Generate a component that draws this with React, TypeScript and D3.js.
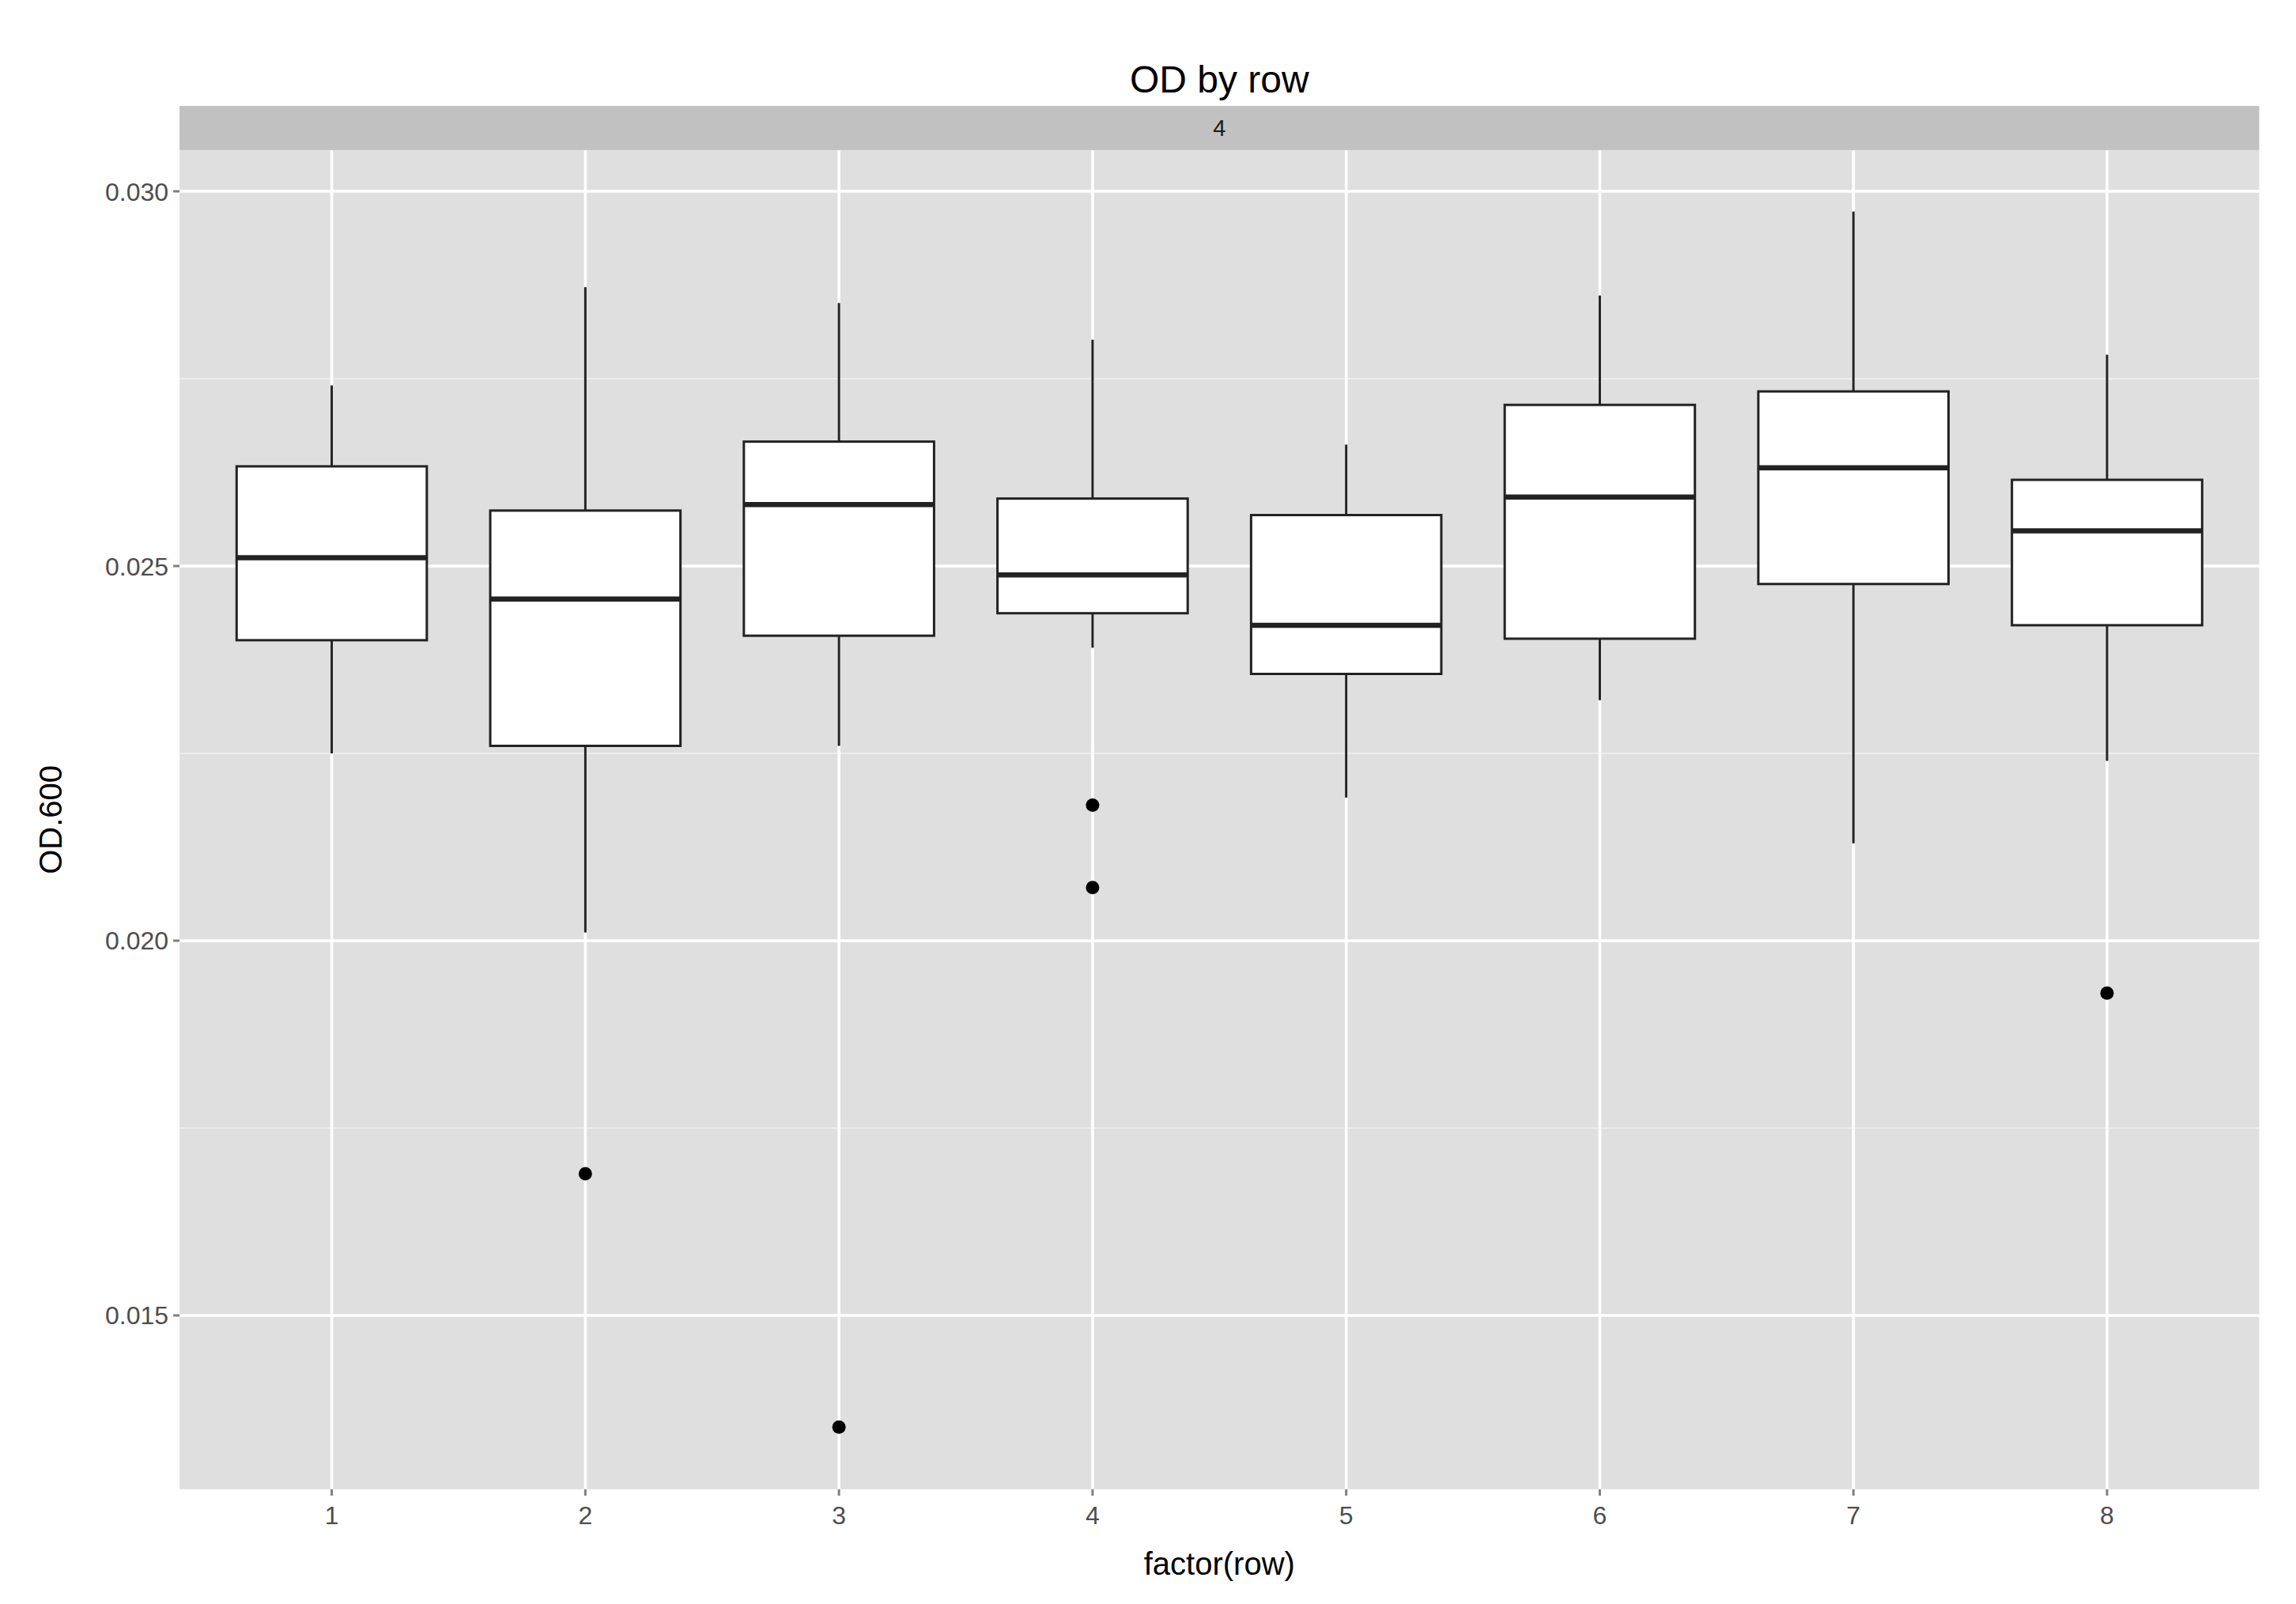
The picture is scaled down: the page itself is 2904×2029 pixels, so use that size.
import * as d3 from "d3";

const categories = ["1", "2", "3", "4", "5", "6", "7", "8"];
// [whiskerLow, q1, median, q3, whiskerHigh]
const boxStats = [
  [0.0225, 0.02401, 0.02511, 0.02633, 0.02741],
  [0.02011, 0.0226, 0.02456, 0.02574, 0.02872],
  [0.0226, 0.02407, 0.02582, 0.02666, 0.02851],
  [0.02391, 0.02437, 0.02488, 0.0259, 0.02802],
  [0.02191, 0.02356, 0.02421, 0.02568, 0.02662],
  [0.02321, 0.02403, 0.02592, 0.02715, 0.02861],
  [0.0213, 0.02476, 0.02631, 0.02733, 0.02973],
  [0.0224, 0.02421, 0.02547, 0.02615, 0.02782],
];
const outliers = [[], [0.01689], [0.01351], [0.02181, 0.02071], [], [], [], [0.0193]];
const yTicks = [0.015, 0.02, 0.025, 0.03];
const yMinor = [0.0175, 0.0225, 0.0275];

const S = 2904 / 1560;
const W = 2904;
const H = 2029;
const panel = { left: 122 * S, right: 1535 * S, top: 102 * S, bottom: 1012 * S };
const stripTop = 72 * S;
const font = "'Liberation Sans', Arial, sans-serif";

export default function App() {
  const x = d3.scalePoint<string>().domain(categories).range([panel.left, panel.right]).padding(0.6);
  const y = d3.scaleLinear().domain([0.01268, 0.03055]).range([panel.bottom, panel.top]);
  const bw = x.step() * 0.75;
  const pw = panel.right - panel.left;

  return (
    <svg width={W} height={H} style={{ position: "absolute", left: 0, top: 0, background: "#fff" }} fontFamily={font}>
      <rect x={panel.left} y={panel.top} width={pw} height={panel.bottom - panel.top} fill="#dfdfdf" />
      {yMinor.map((t) => (
        <line key={`m${t}`} x1={panel.left} x2={panel.right} y1={y(t)} y2={y(t)} stroke="#f0f0f0" strokeWidth={1.6} />
      ))}
      {yTicks.map((t) => (
        <g key={`y${t}`}>
          <line x1={panel.left} x2={panel.right} y1={y(t)} y2={y(t)} stroke="#fff" strokeWidth={3.6} />
          <line x1={panel.left - 8} x2={panel.left} y1={y(t)} y2={y(t)} stroke="#7f7f7f" strokeWidth={3} />
          <text x={panel.left - 14} y={y(t)} dy="0.36em" textAnchor="end" fontSize={32} fill="#4d4d4d">
            {t.toFixed(3)}
          </text>
        </g>
      ))}
      {categories.map((c) => (
        <g key={`x${c}`}>
          <line x1={x(c)} x2={x(c)} y1={panel.top} y2={panel.bottom} stroke="#fff" strokeWidth={3.6} />
          <line x1={x(c)} x2={x(c)} y1={panel.bottom} y2={panel.bottom + 8} stroke="#7f7f7f" strokeWidth={3} />
          <text x={x(c)} y={panel.bottom + 44} textAnchor="middle" fontSize={32} fill="#4d4d4d">
            {c}
          </text>
        </g>
      ))}
      {categories.map((c, i) => {
        const [lo, q1, med, q3, hi] = boxStats[i];
        const cx = x(c) as number;
        return (
          <g key={`b${c}`}>
            <line x1={cx} x2={cx} y1={y(hi)} y2={y(q3)} stroke="#222" strokeWidth={3} />
            <line x1={cx} x2={cx} y1={y(q1)} y2={y(lo)} stroke="#222" strokeWidth={3} />
            <rect x={cx - bw / 2} y={y(q3)} width={bw} height={y(q1) - y(q3)} fill="#fff" stroke="#222" strokeWidth={3} />
            <line x1={cx - bw / 2} x2={cx + bw / 2} y1={y(med)} y2={y(med)} stroke="#222" strokeWidth={6.5} />
            {outliers[i].map((o) => (
              <circle key={o} cx={cx} cy={y(o)} r={8.5} fill="#000" />
            ))}
          </g>
        );
      })}
      <rect x={panel.left} y={stripTop} width={pw} height={panel.top - stripTop} fill="#c1c1c1" />
      <text x={panel.left + pw / 2} y={(stripTop + panel.top) / 2} dy="0.36em" textAnchor="middle" fontSize={29} fill="#1a1a1a">
        4
      </text>
      <text x={panel.left + pw / 2} y={63 * S} textAnchor="middle" fontSize={48} fill="#000">
        OD by row
      </text>
      <text x={panel.left + pw / 2} y={1070 * S} textAnchor="middle" fontSize={40} fill="#000">
        factor(row)
      </text>
      <text
        transform={`translate(${42 * S},${(panel.top + panel.bottom) / 2}) rotate(-90)`}
        textAnchor="middle"
        fontSize={40}
        fill="#000"
      >
        OD.600
      </text>
    </svg>
  );
}
